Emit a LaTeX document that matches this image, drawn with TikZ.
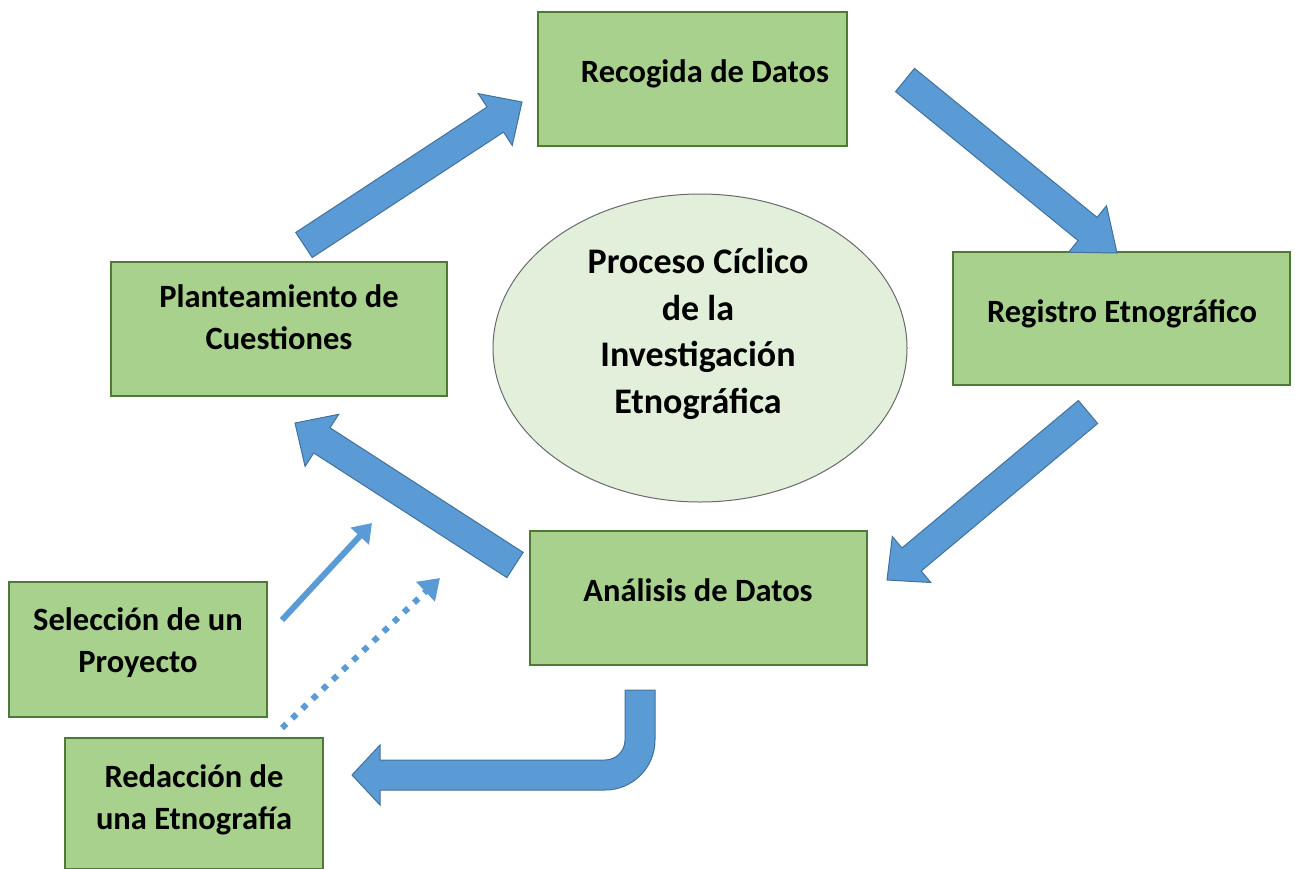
\documentclass[tikz,border=0pt]{standalone}
\usepackage{fontspec}
\setmainfont{Carlito}
\usetikzlibrary{calc,shapes.geometric,arrows.meta}
\definecolor{arrblue}{HTML}{5B9BD5}
\definecolor{arrline}{HTML}{41719C}
\definecolor{boxgreen}{HTML}{A9D18E}
\definecolor{boxline}{HTML}{4F7A35}
\definecolor{ellfill}{HTML}{E2EFDA}
\definecolor{ellline}{HTML}{6A6A6A}
\newcommand{\ls}{\rule[-8pt]{0pt}{30pt}}
\tikzset{
  box/.style={draw=boxline, fill=boxgreen, line width=1.5pt, rectangle, inner sep=0pt},
  boxtext/.style={inner sep=0pt, align=center, font=\fontsize{32.5}{42}\selectfont\bfseries, text=black},
  ellbox/.style={draw=ellline, fill=ellfill, line width=1pt, ellipse, inner sep=0pt},
  elltext/.style={inner sep=0pt, align=center, font=\fontsize{36}{46.7}\selectfont\bfseries, text=black},
  blockarr/.style={fill=arrblue, draw=arrline, line width=1pt, line join=miter},
  thinarr/.style={draw=arrblue, line width=6pt, -{Triangle[length=18pt,width=24pt]}},
  dotarr/.style={draw=arrblue, line width=6pt, dash pattern=on 6pt off 8pt, -{Triangle[length=20pt,width=26pt]}}
}
\newcommand{\blockarrow}[5]{%
  \coordinate (bhc) at ($(#2)!#4!(#1)$);
  \draw[blockarr] ($(#1)!#3!90:(#2)$) -- ($(bhc)!#3!90:(#2)$) -- ($(bhc)!#5!90:(#2)$)
    -- (#2) -- ($(bhc)!#5!-90:(#2)$) -- ($(bhc)!#3!-90:(#2)$) -- ($(#1)!#3!-90:(#2)$) -- cycle;
}
\begin{document}
\begin{tikzpicture}[x=1pt,y=-1pt]
\useasboundingbox (0,0) rectangle (1295,868);
% boxes
\node[box, minimum width=309pt, minimum height=134pt] (rec) at (692.5,79) {};
\node[box, minimum width=337pt, minimum height=133pt] (reg) at (1121.5,318.5) {};
\node[box, minimum width=337pt, minimum height=134pt] (ana) at (698.5,598) {};
\node[box, minimum width=336pt, minimum height=134pt] (pla) at (279,329) {};
\node[box, minimum width=258pt, minimum height=135pt] (sel) at (138,649.5) {};
\node[box, minimum width=258pt, minimum height=131pt] (red) at (194,803.5) {};
\node[boxtext] (rect) at (705,75) {\ls Recogida de Datos};
\node[boxtext] (regt) at (1122,315) {\ls Registro Etnográfico};
\node[boxtext] (anat) at (698,594) {\ls Análisis de Datos};
\node[boxtext] (plat) at (279,321) {\ls Planteamiento de\\\ls Cuestiones};
\node[boxtext] (selt) at (138,644) {\ls Selección de un\\\ls Proyecto};
\node[boxtext] (redt) at (194,801) {\ls Redacción de\\\ls una Etnografía};
% ellipse
\node[ellbox, minimum width=414pt, minimum height=308pt] (ell) at (700,348) {};
\node[elltext] (ellt) at (698,335) {\ls Proceso Cíclico\\\ls de la\\\ls Investigación\\\ls Etnográfica};
% block arrows
\coordinate (a1s) at (304,245); \coordinate (a1e) at (522,102);
\coordinate (a2s) at (905,80);  \coordinate (a2e) at (1117,253);
\coordinate (a3s) at (1088,412); \coordinate (a3e) at (887,580);
\coordinate (a4s) at (515,565); \coordinate (a4e) at (295,423);
\blockarrow{a1s}{a1e}{15pt}{32pt}{31pt}
\blockarrow{a2s}{a2e}{15pt}{38pt}{30pt}
\blockarrow{a3s}{a3e}{15pt}{32pt}{30pt}
\blockarrow{a4s}{a4e}{15pt}{32pt}{31pt}
% U-turn arrow from Analisis to Redaccion
\coordinate (u1) at (625,690);
\coordinate (u2) at (352,775);
\draw[blockarr] (u1) -- ++(30,0) -- ++(0,50) arc[start angle=0,end angle=-90,radius=50pt]
  -- (380,790) -- (380,805) -- (u2) -- (380,745) -- (380,760) -- (605,760)
  arc[start angle=-90,end angle=0,radius=20pt] -- cycle;
% thin arrows
\coordinate (t1s) at (282,620); \coordinate (t1e) at (372,523);
\coordinate (t2s) at (282,728); \coordinate (t2e) at (440,578);
\draw[thinarr] (t1s) -- (t1e);
\draw[dotarr] (t2s) -- (t2e);
\end{tikzpicture}
\end{document}
